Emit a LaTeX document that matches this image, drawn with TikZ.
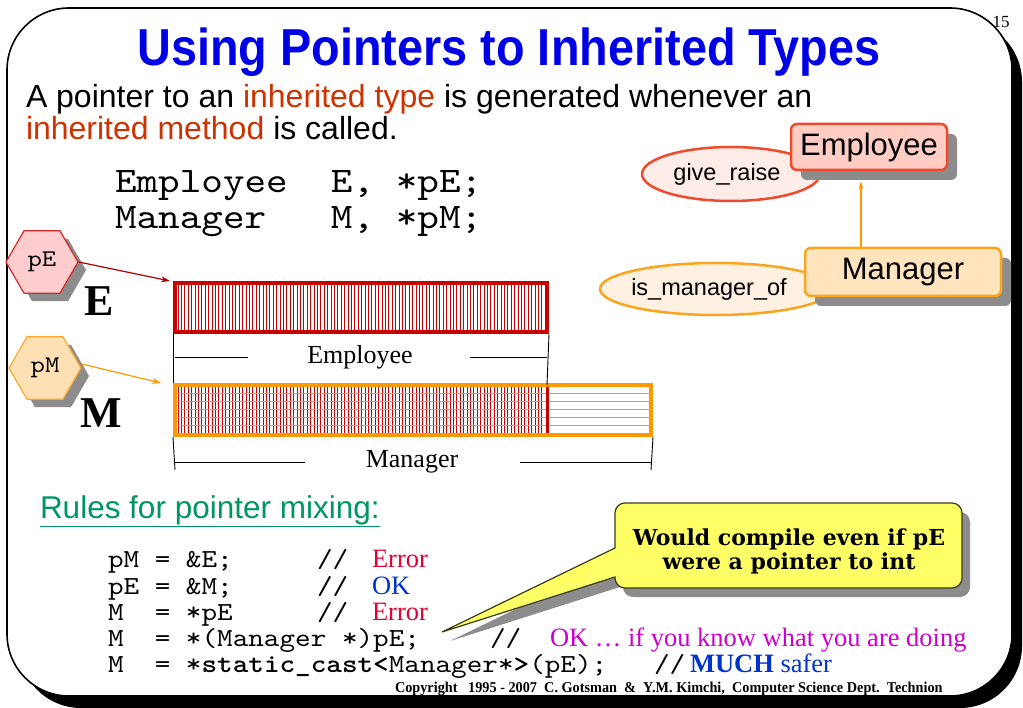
\documentclass[tikz,border=0pt]{standalone}
\usepackage{fontspec}
\setmainfont{Liberation Serif}
\setsansfont{Liberation Sans}
\newfontfamily\cour[FakeStretch=1.143, BoldFont=lmmonolt10-bold.otf, BoldFeatures={FakeStretch=1.143}]{lmmono10-regular.otf}
\newfontfamily\titlefont[FakeStretch=0.9]{Liberation Sans}
\newfontfamily\callfont{DejaVu Serif}
\newfontfamily\copyfont[FakeStretch=0.95]{Liberation Serif}
\usetikzlibrary{shapes.geometric,shadows,arrows.meta}
\definecolor{ttlblue}{RGB}{0,0,230}
\definecolor{inh}{RGB}{204,51,0}
\definecolor{hexred}{RGB}{215,40,40}
\definecolor{hexredfill}{RGB}{255,205,205}
\definecolor{hexor}{RGB}{250,170,40}
\definecolor{hexorfill}{RGB}{255,224,180}
\definecolor{shgray}{RGB}{140,140,140}
\definecolor{ered}{RGB}{200,0,0}
\definecolor{morange}{RGB}{255,153,0}
\definecolor{empfill}{RGB}{255,205,195}
\definecolor{empdraw}{RGB}{238,75,45}
\definecolor{grfill}{RGB}{253,236,231}
\definecolor{mgrfill}{RGB}{255,228,190}
\definecolor{mgrdraw}{RGB}{250,165,30}
\definecolor{imfill}{RGB}{255,241,226}
\definecolor{rulegreen}{RGB}{0,150,100}
\definecolor{errred}{RGB}{225,0,50}
\definecolor{okblue}{RGB}{0,51,204}
\definecolor{okmag}{RGB}{204,0,204}
\definecolor{callyel}{RGB}{255,255,102}
\definecolor{calldraw}{RGB}{60,60,20}
\newcommand\fsz[1]{\fontsize{#1}{#1}\selectfont}
\begin{document}
\begin{tikzpicture}[x=1pt,y=-1pt,
  txt/.style={inner sep=0pt, outer sep=0pt},
  hexa/.style={regular polygon, regular polygon sides=6, minimum size=72pt, line width=1.2pt, inner sep=0pt, font=\cour\fsz{24},
     drop shadow={shadow xshift=8pt, shadow yshift=-8pt, fill=shgray, opacity=1}},
  ptr/.style={-{Stealth[length=9pt,width=6pt]}, line width=1.2pt},
  dimline/.style={line width=0.9pt, black},
  boxsh/.style={drop shadow={shadow xshift=10pt, shadow yshift=-10pt, fill=shgray, opacity=1}},
  cls/.style={rectangle, rounded corners=6pt, line width=2.5pt, font=\sffamily\fsz{31}, boxsh, inner sep=0pt},
  meth/.style={ellipse, line width=2.5pt, font=\sffamily\fsz{23.5}, inner sep=0pt},
  code/.style={txt, anchor=base west, font=\cour\fsz{26}},
  cmt/.style={txt, anchor=base west, font=\rmfamily\fsz{26.5}}
]
\useasboundingbox (0,0) rectangle (1023,708);
% frame
\fill[black,rounded corners=62pt] (19,20) rectangle (1022,708);
\draw[fill=white,line width=1.6pt,rounded corners=62pt] (7,8) rectangle (1012,696);
\node[txt, font=\rmfamily\fsz{17}] (num) at (1001,22) {15};
% title
\node[txt, anchor=base, font=\titlefont\bfseries\fsz{52}, text=ttlblue] (title) at (509,66) {Using Pointers to Inherited Types};
\node[txt, anchor=base west, font=\sffamily\fsz{32}] (l1) at (26,108) {A pointer to an {\color{inh}inherited type} is generated whenever an};
\node[txt, anchor=base west, font=\sffamily\fsz{32}] (l2) at (26,140) {{\color{inh}inherited method} is called.};
\node[txt, anchor=base west, font=\cour\fsz{36}] (c1) at (115,193) {Employee\ \ E, *pE;};
\node[txt, anchor=base west, font=\cour\fsz{36}] (c2) at (115,229) {Manager\ \ \ M, *pM;};
% E rect hatch
\foreach \x in {178,181.4,...,545} \draw[ered, line width=0.7pt] (\x,285) -- (\x,330);
\node[draw=ered, line width=4pt, minimum width=372pt, minimum height=49pt, inner sep=0pt] (erect) at (361,307.5) {};
% M rect hatch
\foreach \x in {178,181.4,...,545} \draw[ered, line width=0.7pt] (\x,387) -- (\x,433);
\foreach \y in {393.5,401.5,409.5,417.5,425.5} \draw[morange, line width=1.5pt] (175,\y) -- (651,\y);
\draw[ered, line width=3pt] (547,387) -- (547,433);
\node[draw=morange, line width=4pt, minimum width=476pt, minimum height=50pt, inner sep=0pt] (mrect) at (413,410) {};
% labels
\node[txt, anchor=base west, font=\rmfamily\bfseries\fsz{44}] (Elab) at (84,316) {E};
\node[txt, anchor=base west, font=\rmfamily\bfseries\fsz{44}] (Mlab) at (80,428) {M};
% hexagons
\node[hexa, draw=hexred, fill=hexredfill] (pE) at (42,262) {pE};
\node[hexa, draw=hexor, fill=hexorfill] (pM) at (45,368) {pM};
\draw[ptr, ered!85!black] (pE.east) -- ([xshift=-3pt]erect.north west);
\draw[ptr, morange] ([yshift=4pt]pM.east) -- ([xshift=-12pt]mrect.north west);
% dimensions
\draw[dimline] (erect.south west) -- (mrect.north west);
\draw[dimline] (erect.south east) -- (547,385);
\node[txt, font=\rmfamily\fsz{26}] (empdim) at (360,357) {Employee};
\draw[dimline] (175,357) -- (248,357);
\draw[dimline] (470,357) -- (547,357);
\draw[dimline] (mrect.south west) -- (175,470);
\draw[dimline] (mrect.south east) -- (651,470);
\node[txt, font=\rmfamily\fsz{26}] (mgrdim) at (412,462) {Manager};
\draw[dimline] (175,462) -- (305,462);
\draw[dimline] (520,462) -- (651,462);
% class diagram
\node[meth, draw=empdraw, fill=grfill, minimum width=178pt, minimum height=54pt] (gr) at (731,174) {\hspace*{-8pt}give\_raise};
\node[cls, draw=empdraw, fill=empfill, minimum width=156pt, minimum height=46pt] (emp) at (869,147) {Employee};
\node[meth, draw=mgrdraw, fill=imfill, minimum width=232pt, minimum height=52pt] (ism) at (716,289) {\hspace*{-14pt}is\_manager\_of};
\node[cls, draw=mgrdraw, fill=mgrfill, minimum width=196pt, minimum height=48pt] (mgr) at (903,272) {Manager};
\coordinate (ax) at (861,0);
\draw[morange, line width=1.5pt, -{Stealth[length=8pt,width=5pt]}] (ax |- mgr.north) -- ([yshift=-10pt]ax |- emp.south);
% rules
\node[txt, anchor=base west, font=\sffamily\fsz{31.5}, text=rulegreen] (rules) at (40,518) {\underline{Rules for pointer mixing:}};
\node[code] (r1) at (108,567) {pM = \&E;};
\node[code] (r1c) at (317,567) {//};
\node[cmt, text=errred] (r1t) at (372,567) {Error};
\node[code] (r2) at (108,594) {pE = \&M;};
\node[code] (r2c) at (317,594) {//};
\node[cmt, text=okblue] (r2t) at (372,594) {OK};
\node[code] (r3) at (108,620) {M\ \ = *pE};
\node[code] (r3c) at (317,620) {//};
\node[cmt, text=errred] (r3t) at (372,620) {Error};
\node[code] (r4) at (108,646) {M\ \ = *(Manager *)pE;};
\node[code] (r4c) at (490,646) {//};
\node[cmt, text=okmag] (r4t) at (550,646) {OK … if you know what you are doing};
\node[code] (r5) at (108,672) {M\ \ = *\textbf{static\_cast<}Manager*\textbf{>}(pE);};
\node[code] (r5c) at (654,672) {//};
\node[cmt, text=okblue] (r5t) at (690,672) {\textbf{MUCH} safer};
% callout bubble
\coordinate (tip) at (442,632);
\begin{scope}[shift={(8,9)}]
\fill[shgray] (615,548) [rounded corners=10pt] -- (615,503) -- (962,503) -- (962,588) -- (615,588) [sharp corners] -- (615,577) -- (442,632) -- cycle;
\end{scope}
\draw[fill=callyel, draw=calldraw, line width=1.2pt] (615,548) [rounded corners=10pt] -- (615,503) -- (962,503) -- (962,588) -- (615,588) [sharp corners] -- (615,577) -- (tip) -- cycle;
\node[txt, anchor=base, font=\callfont\bfseries\fsz{22}] (call1) at (789,545) {Would compile even if pE};
\node[txt, anchor=base, font=\callfont\bfseries\fsz{22}] (call2) at (789,569) {were a pointer to int};
% copyright
\node[txt, anchor=base west, font=\copyfont\bfseries\fsz{15}] (copy) at (395,692)
  {Copyright\ \ \ 1995 - 2007\ \ C. Gotsman\ \ \&\ \ Y.M. Kimchi,\ \ Computer Science Dept.\ \ Technion};
\end{tikzpicture}
\end{document}
